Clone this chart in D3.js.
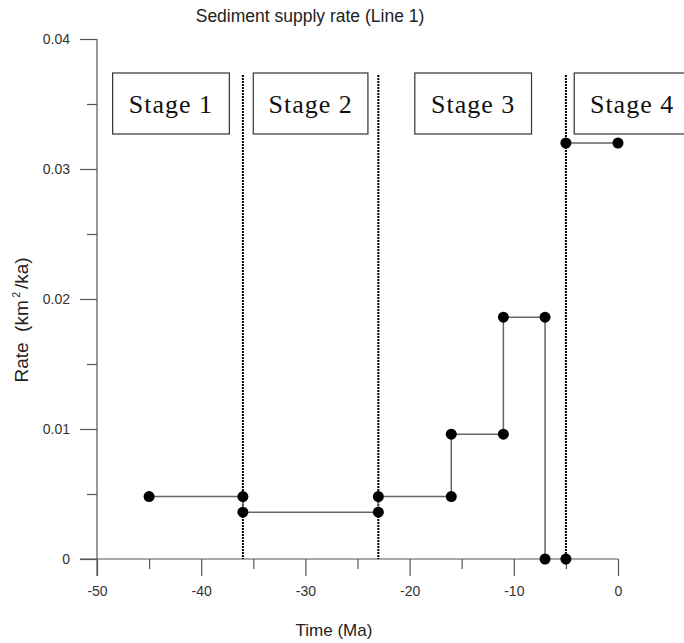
<!DOCTYPE html>
<html>
<head>
<meta charset="utf-8">
<script src="https://cdn.jsdelivr.net/npm/d3@7"></script>
<style>
	body { margin: 0; background: #fff; }
	svg { display: block; }
	.tick text { font-family: "Liberation Sans", Arial, sans-serif; font-size: 14px; fill: #333; }
	.label { font-family: "Liberation Sans", Arial, sans-serif; font-size: 17px; fill: #222; }
	.ylabel { font-family: "Liberation Sans", Arial, sans-serif; font-size: 19px; fill: #222; }
	.title { font-family: "Liberation Sans", Arial, sans-serif; font-size: 17.5px; fill: #222; }
	.stage { font-family: "Liberation Serif", "DejaVu Serif", serif; font-size: 26px; letter-spacing: 1px; fill: #111; }
</style>
</head>
<body>
<main></main>
<script>
// step line (Stages 1-3)
const stepTime = [-45, -36, -36, -23, -23, -16, -16, -11, -11, -7, -7];
const stepRate = [0.0048, 0.0048, 0.0036, 0.0036, 0.0048, 0.0048, 0.0096, 0.0096, 0.0186, 0.0186, 0];
// stage 4
const s4Time = [-5, -5, 0];
const s4Rate = [0, 0.032, 0.032];
const boundaries = [-36, -23, -5];
const stageNames = ['Stage 1', 'Stage 2', 'Stage 3', 'Stage 4'];
const xTicks = [-50, -40, -30, -20, -10, 0];
const yTicks = [0, 0.01, 0.02, 0.03, 0.04];

const W = 684, H = 643;
const m = { left: 97, right: 66, top: 39, bottom: 84 };
const width = W - m.left - m.right;
const height = H - m.top - m.bottom;

const svg = d3.select('main')
	.append('svg')
	.attr('width', W)
	.attr('height', H);

const xScale = d3.scaleLinear().domain([-50, 0]).range([0, width]);
const yScale = d3.scaleLinear().domain([0, 0.04]).range([height, 0]);

const chart = svg.append('g')
	.attr('transform', `translate(${m.left}, ${m.top})`);

// minor ticks
chart.append('g')
	.attr('transform', `translate(0, ${height})`)
	.call(d3.axisBottom(xScale).tickValues(d3.range(-45, 0, 10)).tickSize(10).tickFormat(''))
	.call(g => g.select('.domain').remove());
chart.append('g')
	.call(d3.axisLeft(yScale).tickValues([0.005, 0.015, 0.025, 0.035]).tickSize(10).tickFormat(''))
	.call(g => g.select('.domain').remove());

// major axes
const xAxis = chart.append('g')
	.attr('transform', `translate(0, ${height})`)
	.call(d3.axisBottom(xScale).tickValues(xTicks).tickSize(17).tickPadding(10).tickFormat(d => String(d)));
xAxis.select('.domain').attr('d', `M-17,0H${width}`);

const yAxis = chart.append('g')
	.call(d3.axisLeft(yScale).tickValues(yTicks).tickSize(17).tickPadding(10)
		.tickFormat(d => d === 0 ? '0' : d3.format('.2f')(d)));
yAxis.select('.domain').attr('d', `M0,0V${height + 17}`);

svg.selectAll('.domain, .tick line').attr('stroke', '#555').attr('stroke-width', 1.2);

// stage boundaries
chart.selectAll('.boundary')
	.data(boundaries)
	.enter()
	.append('line')
	.attr('x1', d => xScale(d))
	.attr('x2', d => xScale(d))
	.attr('y1', 36)
	.attr('y2', height)
	.attr('stroke', '#000')
	.attr('stroke-width', 2)
	.attr('stroke-dasharray', '2,1');

// stage boxes
const boxX = [[-48.5, -37.3], [-35.0, -24.0], [-19.5, -8.3], [-4.2, 6.9]];
const boxes = chart.selectAll('.stagebox')
	.data(stageNames)
	.enter()
	.append('g');
boxes.append('rect')
	.attr('x', (d, i) => xScale(boxX[i][0]))
	.attr('y', 34)
	.attr('width', (d, i) => xScale(boxX[i][1]) - xScale(boxX[i][0]))
	.attr('height', 61)
	.attr('fill', '#fff')
	.attr('stroke', '#333')
	.attr('stroke-width', 1.2);
boxes.append('text')
	.attr('class', 'stage')
	.attr('x', (d, i) => (xScale(boxX[i][0]) + xScale(boxX[i][1])) / 2)
	.attr('y', 74)
	.attr('text-anchor', 'middle')
	.text(d => d);

const line = d3.line().x(d => xScale(d[0])).y(d => yScale(d[1]));
const stepPts = stepTime.map((t, i) => [t, stepRate[i]]);
const s4Pts = s4Time.map((t, i) => [t, s4Rate[i]]);

chart.append('path')
	.datum(stepPts)
	.attr('d', line)
	.attr('fill', 'none')
	.attr('stroke', '#666')
	.attr('stroke-width', 1.5);
chart.append('path')
	.datum(s4Pts.slice(1))
	.attr('d', line)
	.attr('fill', 'none')
	.attr('stroke', '#666')
	.attr('stroke-width', 1.5);

chart.selectAll('.pt')
	.data(stepPts.concat(s4Pts))
	.enter()
	.append('circle')
	.attr('cx', d => xScale(d[0]))
	.attr('cy', d => yScale(d[1]))
	.attr('r', 5.5)
	.attr('fill', '#000');

svg.append('text')
	.attr('class', 'title')
	.attr('x', 310)
	.attr('y', 22)
	.attr('text-anchor', 'middle')
	.text('Sediment supply rate (Line 1)');

svg.append('text')
	.attr('class', 'label')
	.attr('x', 334)
	.attr('y', 636)
	.attr('text-anchor', 'middle')
	.text('Time (Ma)');

const yl = svg.append('text')
	.attr('class', 'ylabel')
	.attr('transform', `translate(28, 320) rotate(-90)`)
	.attr('text-anchor', 'middle');
yl.append('tspan').text('Rate\u00A0\u00A0(km');
yl.append('tspan').style('font-size', '10px').attr('dy', -8).text('\u00A02\u00A0');
yl.append('tspan').attr('dy', 8).text('/ka)');
</script>
</body>
</html>
